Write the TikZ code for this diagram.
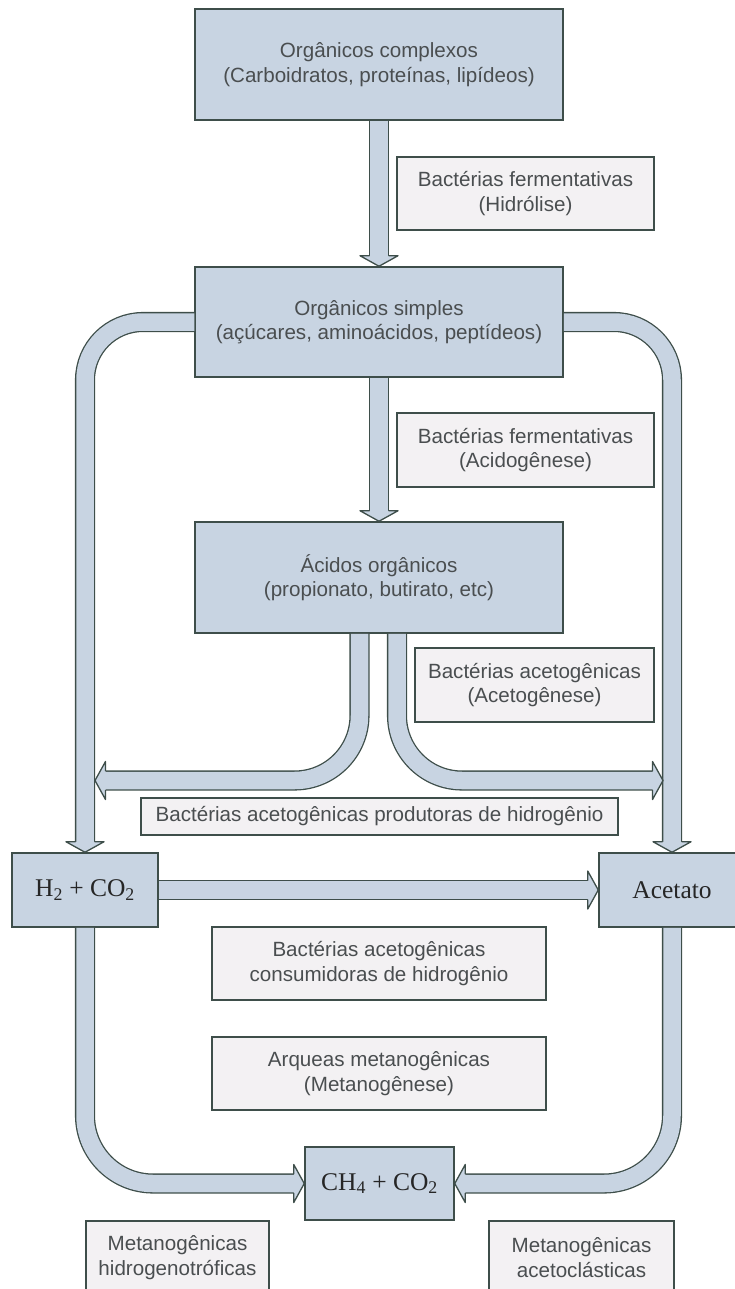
\documentclass[tikz,border=0pt]{standalone}
\usepackage{fontspec}
\setmainfont{Liberation Sans}
\newfontfamily\timesfont{Liberation Serif}
\usepackage{xcolor}
\usepackage{tikz}
\usetikzlibrary{calc}
\definecolor{boxfill}{RGB}{200,212,226}
\definecolor{lblfill}{RGB}{243,241,243}
\definecolor{edge}{RGB}{62,78,74}
\definecolor{txt}{RGB}{74,78,80}

\begin{document}
\begin{tikzpicture}[x=1pt, y=-1pt,
        box/.style={draw=edge, fill=boxfill, line width=1.5pt, inner sep=0pt, align=center, text=txt, font=\fontsize{20.6}{24.5}\selectfont},
        lbl/.style={box, fill=lblfill},
        chem/.style={box, text=black!85, font=\timesfont\fontsize{25.5}{30}\selectfont},
        fat/.style={draw=edge, line width=1.3pt, double=boxfill, double distance=17.5pt},
        head/.pic={
            \fill[boxfill] (-10.5,-19) -- (0,0) -- (-10.5,19) -- cycle;
            \draw[edge, line width=1.3pt, line join=round] (-10.5,-9.5) -- (-10.5,-19) -- (0,0) -- (-10.5,19) -- (-10.5,9.5);
        }]
            \useasboundingbox (0,0) rectangle (735,1289);

            \node[box, minimum width=368pt, minimum height=111pt] (complexos) at (379,64.5) {Orgânicos complexos\\(Carboidratos, proteínas, lipídeos)};
            \node[lbl, minimum width=257pt, minimum height=73pt] (hidrolise) at (525.5,193.5) {Bactérias fermentativas\\(Hidrólise)};
            \node[box, minimum width=368pt, minimum height=110pt] (simples) at (379,322) {Orgânicos simples\\(açúcares, aminoácidos, peptídeos)};
            \node[lbl, minimum width=257pt, minimum height=74pt] (acidogenese) at (525.5,450) {Bactérias fermentativas\\(Acidogênese)};
            \node[box, minimum width=368pt, minimum height=111pt] (acidos) at (379,577.5) {Ácidos orgânicos\\(propionato, butirato, etc)};
            \node[lbl, minimum width=239pt, minimum height=74pt] (acetogenese) at (534.5,685) {Bactérias acetogênicas\\(Acetogênese)};
            \node[lbl, minimum width=477pt, minimum height=37pt] (produtoras) at (379.5,816.5) {Bactérias acetogênicas produtoras de hidrogênio};
            \node[chem, minimum width=146pt, minimum height=74pt] (h2) at (85,890) {H\textsubscript{2} + CO\textsubscript{2}};
            \node[chem, minimum width=146pt, minimum height=74pt] (acetato) at (672,890) {Acetato};
            \node[lbl, minimum width=334pt, minimum height=73pt] (consumidoras) at (379,963.5) {Bactérias acetogênicas\\consumidoras de hidrogênio};
            \node[lbl, minimum width=334pt, minimum height=73pt] (arqueas) at (379,1073.5) {Arqueas metanogênicas\\(Metanogênese)};
            \node[chem, minimum width=149pt, minimum height=73pt] (ch4) at (379.5,1183.5) {CH\textsubscript{4} + CO\textsubscript{2}};
            \node[lbl, minimum width=183pt, minimum height=73pt] (hidrogenotroficas) at (177.5,1257.5) {Metanogênicas\\hidrogenotróficas};
            \node[lbl, minimum width=185pt, minimum height=73pt] (acetoclasticas) at (581.5,1257.5) {Metanogênicas\\acetoclásticas};

            \coordinate (hl) at (95,780.5);
            \coordinate (hr) at (663,780.5);

            \draw[fat] (complexos) -- ($(simples.north)+(0,-10)$);
            \pic[rotate=-90] at (simples.north) {head};
            \draw[fat] (simples) -- ($(acidos.north)+(0,-10)$);
            \pic[rotate=-90] at (acidos.north) {head};

            \draw[fat, rounded corners=58pt] (simples.west) -| ($(h2.north)+(0,-10)$);
            \pic[rotate=-90] at (h2.north) {head};
            \draw[fat, rounded corners=58pt] (simples.east) -| ($(acetato.north)+(0,-10)$);
            \pic[rotate=-90] at (acetato.north) {head};

            \draw[fat, rounded corners=65pt] ($(acidos.south)+(-19.5,0)$) |- ($(hl)+(10,0)$);
            \pic[rotate=180] at (hl) {head};
            \draw[fat, rounded corners=65pt] ($(acidos.south)+(18,0)$) |- ($(hr)+(-10,0)$);
            \pic at (hr) {head};

            \draw[fat] (h2) -- ($(acetato.west)+(-10,0)$);
            \pic at (acetato.west) {head};

            \draw[fat, rounded corners=68pt] (h2.south) |- ($(ch4.west)+(-10,0)$);
            \pic at (ch4.west) {head};
            \draw[fat, rounded corners=68pt] (acetato.south) |- ($(ch4.east)+(10,0)$);
            \pic[rotate=180] at (ch4.east) {head};
        \end{tikzpicture}
\end{document}
